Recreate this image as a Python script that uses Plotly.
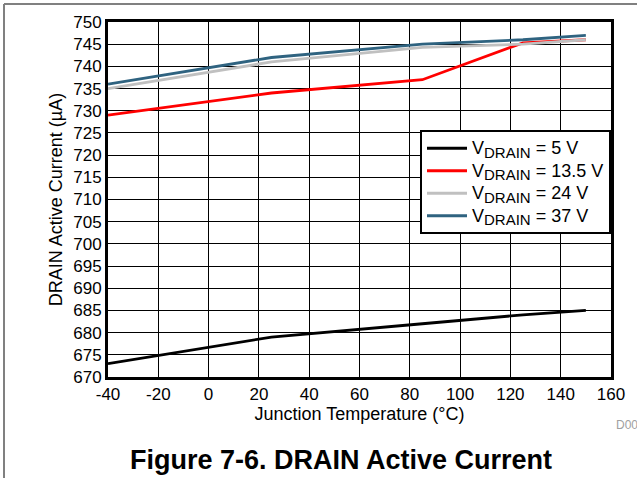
import plotly.graph_objects as go

temps = [-40, 25, 85, 125, 150]
v5 = [673, 679, 682, 684, 685]
v13_5 = [729, 734, 737, 745.3, 746]
v24 = [735, 741, 744.3, 745, 746]
v37 = [736, 742, 745, 746, 747]

x_ticks = [-40, -20, 0, 20, 40, 60, 80, 100, 120, 140, 160]
x_tick_labels = ["-40", "-20", "0", "20", "40", "60", "80", "100", "120", "140", "160"]

labels = ["5 V", "13.5 V", "24 V", "37 V"]


def legend_name(v):
    return ('<span style="font-size:18px">V<sub><span style="font-size:15px">DRAIN</span></sub>'
            ' = ' + v + '</span>')


names = [legend_name(v) for v in labels]
colors = ["#000000", "#ff0000", "#c0c0c0", "#2f6380"]
series = [v5, v13_5, v24, v37]

fig = go.Figure()
for n, c, s in zip(names, colors, series):
    fig.add_trace(go.Scatter(x=temps, y=s, mode="lines", name=n,
                             line=dict(color=c, width=2.8)))

font = "Liberation Sans, Arial, sans-serif"
fig.update_layout(
    width=637, height=478,
    margin=dict(l=108, r=26, t=22, b=101),
    paper_bgcolor="white", plot_bgcolor="white",
    font=dict(family=font, color="black", size=16),
    showlegend=True,
    legend=dict(x=1, xanchor="right", y=(377 - 130) / 355, yanchor="top",
                bgcolor="white", bordercolor="black", borderwidth=2,
                font=dict(size=15), tracegroupgap=0, itemwidth=40),
    xaxis=dict(range=[-40, 160], tickvals=x_ticks, ticktext=x_tick_labels,
               showgrid=True, gridcolor="black", gridwidth=1,
               showline=True, linecolor="black", linewidth=3, mirror=True,
               ticks="", zeroline=False,
               tickfont=dict(size=17),
               title=dict(text="Junction Temperature (°C)", font=dict(size=18), standoff=2)),
    yaxis=dict(range=[670, 750], dtick=5, tick0=670,
               showgrid=True, gridcolor="black", gridwidth=1,
               showline=True, linecolor="black", linewidth=3, mirror=True,
               ticks="", zeroline=False,
               tickfont=dict(size=17),
               title=dict(text="DRAIN Active Current (µA)", font=dict(size=18), standoff=6)),
    annotations=[
        dict(text="<b>Figure 7-6. DRAIN Active Current</b>", xref="paper", yref="paper",
             x=(341 - 108) / 503, y=(377 - 460) / 355, xanchor="center", yanchor="middle",
             showarrow=False, font=dict(size=27, family=font)),
        dict(text="D005", xref="paper", yref="paper",
             x=(614 - 108) / 503, y=(377 - 425) / 355, xanchor="left", yanchor="middle",
             showarrow=False, font=dict(size=12, color="#a0a0a0", family=font)),
    ],
    shapes=[
        dict(type="line", xref="paper", yref="paper",
             x0=(4 - 108) / 503, x1=(700 - 108) / 503,
             y0=(377 - 4) / 355, y1=(377 - 4) / 355,
             line=dict(color="#808080", width=2)),
        dict(type="line", xref="paper", yref="paper",
             x0=(4 - 108) / 503, x1=(4 - 108) / 503,
             y0=(377 - 4) / 355, y1=(377 - 490) / 355,
             line=dict(color="#808080", width=2)),
    ],
)

fig.write_html("out.html", config={"displayModeBar": False},
               post_script="document.body.style.margin='0px';")
